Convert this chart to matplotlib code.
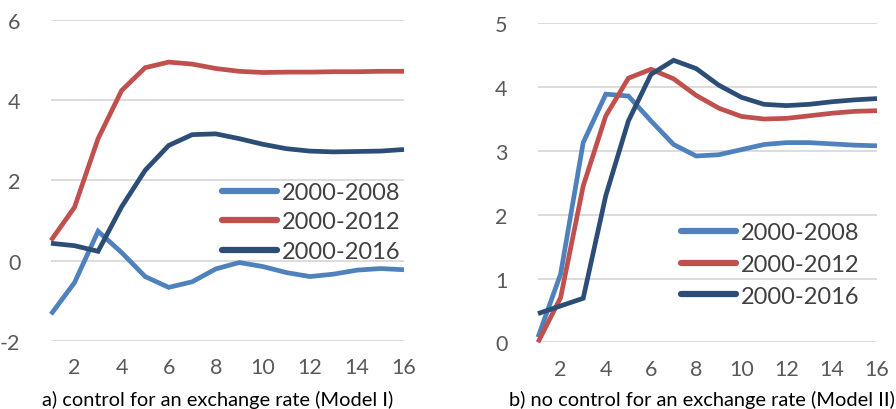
import matplotlib
matplotlib.use("Agg")
import matplotlib.pyplot as plt

plt.rcParams['font.family'] = ['Lato', 'DejaVu Sans']

periods = list(range(1, 17))
labels = ["2000-2008", "2000-2012", "2000-2016"]
colors = ["#4F81BD", "#C0504D", "#2C4D75"]

# Panel a) control for an exchange rate (Model I)
a_2008 = [-1.34, -0.55, 0.73, 0.20, -0.40, -0.67, -0.53, -0.21, -0.05, -0.15, -0.30, -0.40, -0.34, -0.24, -0.20, -0.23]
a_2012 = [0.50, 1.33, 3.04, 4.24, 4.81, 4.95, 4.90, 4.79, 4.72, 4.69, 4.70, 4.70, 4.71, 4.71, 4.72, 4.72]
a_2016 = [0.43, 0.37, 0.23, 1.34, 2.25, 2.87, 3.14, 3.16, 3.04, 2.90, 2.79, 2.73, 2.71, 2.72, 2.73, 2.77]

# Panel b) no control for an exchange rate (Model II)
b_2008 = [0.08, 1.07, 3.13, 3.89, 3.86, 3.47, 3.10, 2.92, 2.94, 3.02, 3.10, 3.13, 3.13, 3.11, 3.09, 3.08]
b_2012 = [0.00, 0.70, 2.45, 3.55, 4.14, 4.28, 4.13, 3.87, 3.67, 3.54, 3.50, 3.51, 3.55, 3.59, 3.62, 3.63]
b_2016 = [0.45, 0.57, 0.69, 2.30, 3.47, 4.20, 4.42, 4.29, 4.03, 3.84, 3.73, 3.71, 3.73, 3.77, 3.80, 3.82]

xticks = [2, 4, 6, 8, 10, 12, 14, 16]
a_yticks = [-2, 0, 2, 4, 6]
b_yticks = [0, 1, 2, 3, 4, 5]
captions = ["a) control for an exchange rate (Model I)",
            "b) no control for an exchange rate (Model II)"]

W, H = 896, 410
fig = plt.figure(figsize=(W / 100, H / 100), dpi=100)

def px_axes(x0, x1, ytop, ybot):
    return fig.add_axes([x0 / W, 1 - ybot / H, (x1 - x0) / W, (ybot - ytop) / H])

ax1 = px_axes(51, 404, 21, 341.7)
ax2 = px_axes(538, 877, 24.3, 343.3)

tick_color = "#595959"
grid_color = "#D9D9D9"
tick_fs = 15.5
leg_fs = 17
cap_fs = 14.4

def style(ax, yticks):
    ax.set_xlim(1, 16)
    ax.set_ylim(yticks[0], yticks[-1])
    ax.set_xticks(xticks)
    ax.set_yticks(yticks)
    ax.set_yticklabels([str(t) for t in yticks])
    for s in ax.spines.values():
        s.set_visible(False)
    ax.grid(axis='y', color=grid_color, linewidth=1.3)
    ax.set_axisbelow(True)
    ax.tick_params(axis='both', length=0, labelsize=tick_fs, labelcolor=tick_color)
    ax.tick_params(axis='y', pad=22)
    ax.tick_params(axis='x', pad=12)

style(ax1, a_yticks)
style(ax2, b_yticks)

for ax, series in ((ax1, (a_2008, a_2012, a_2016)), (ax2, (b_2008, b_2012, b_2016))):
    for vals, lab, col in zip(series, labels, colors):
        ax.plot(periods, vals, color=col, linewidth=3.4, label=lab,
                solid_capstyle='butt', solid_joinstyle='miter', clip_on=False)

leg_kw = dict(frameon=False, fontsize=leg_fs, handlelength=2.35, handletextpad=0.2,
              labelspacing=0.36, borderpad=0, borderaxespad=0, labelcolor="#404040")
leg1 = ax1.legend(loc='upper left', bbox_to_anchor=(222 / W, 1 - 183 / H),
                  bbox_transform=fig.transFigure, **leg_kw)
leg2 = ax2.legend(loc='upper left', bbox_to_anchor=(681 / W, 1 - 223 / H),
                  bbox_transform=fig.transFigure, **dict(leg_kw, labelspacing=0.46))
for leg in (leg1, leg2):
    for h in leg.get_lines():
        h.set_linewidth(4.5)
        h.set_solid_capstyle('round')

fig.text(218 / W, 1 - 400 / H, captions[0], ha='center', va='center',
         fontsize=cap_fs, color='black')
fig.text(702 / W, 1 - 400 / H, captions[1], ha='center', va='center',
         fontsize=cap_fs, color='black')

fig.savefig("out.png", dpi=100)
